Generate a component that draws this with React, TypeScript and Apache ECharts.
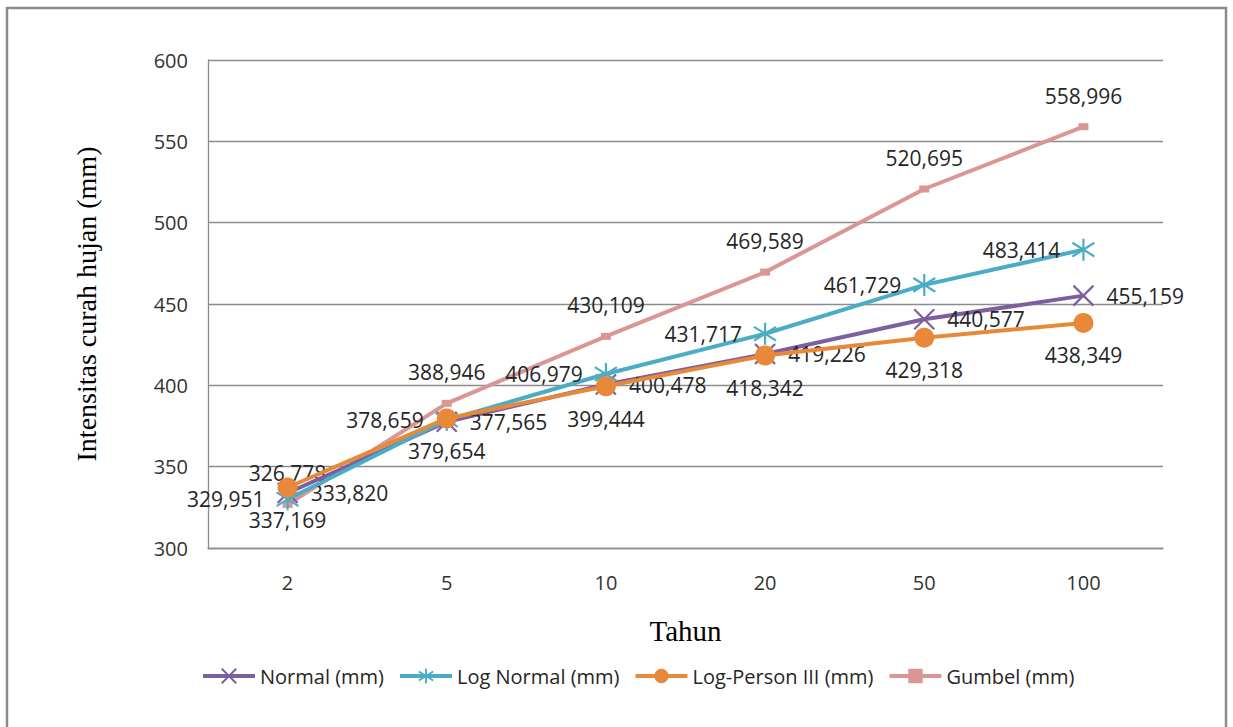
import React, { useEffect, useRef } from "react";
import * as echarts from "echarts";

const categories = ["2", "5", "10", "20", "50", "100"];
const normal = [333.82, 377.565, 400.478, 419.226, 440.577, 455.159];
const logNormal = [329.951, 378.659, 406.979, 431.717, 461.729, 483.414];
const logPerson = [337.169, 379.654, 399.444, 418.342, 429.318, 438.349];
const gumbel = [326.778, 388.946, 430.109, 469.589, 520.695, 558.996];

const seriesNames = ["Normal (mm)", "Log Normal (mm)", "Log-Person III (mm)", "Gumbel (mm)"];
const colors = ["#7D5FA0", "#4BACC6", "#E8893A", "#D99694"];

const fmt = (v: number) => v.toFixed(3).replace(".", ",");
const NUM_FONT = "'Open Sans', 'DejaVu Sans', sans-serif";

export default function App() {
  const ref = useRef<HTMLDivElement>(null);
  useEffect(() => {
    document.body.style.margin = "0";
    if (!ref.current) return;
    const chart = echarts.init(ref.current, undefined, { renderer: "svg" });
    const labelBase = {
      show: true,
      fontFamily: NUM_FONT,
      fontSize: 21,
      color: "#262626",
      formatter: (p: any) => fmt(p.value),
    };
    const crossPath = "path://M0,0L16,16M16,0L0,16";
    const starPath = "path://M1,3L15,13M15,3L1,13M8,0L8,16";
    chart.setOption({
      animation: false,
      backgroundColor: "#ffffff",
      color: colors,
      grid: { left: 208, right: 70, top: 60, bottom: 179 },
      graphic: [
        {
          type: "rect",
          shape: { x: 7, y: 8, width: 1219, height: 740 },
          style: { fill: "none", stroke: "#8c8c8c", lineWidth: 2.5 },
          silent: true,
        },
      ],
      legend: {
        bottom: 36,
        left: 196,
        itemWidth: 52,
        itemHeight: 18,
        itemGap: 14,
        lineStyle: { width: 4 },
        textStyle: {
          fontFamily: "'Open Sans', sans-serif",
          fontSize: 20,
          color: "#262626",
        },
        data: seriesNames,
      },
      xAxis: {
        type: "category",
        data: categories,
        boundaryGap: true,
        name: "Tahun",
        nameLocation: "middle",
        nameGap: 68,
        nameTextStyle: { fontFamily: "'Liberation Serif', serif", fontSize: 29, color: "#000" },
        axisLine: { lineStyle: { color: "#8c8c8c", width: 1.3 } },
        axisTick: { show: false },
        axisLabel: { fontFamily: NUM_FONT, fontSize: 20, color: "#333", margin: 24 },
      },
      yAxis: {
        type: "value",
        min: 300,
        max: 600,
        interval: 50,
        name: "Intensitas curah hujan (mm)",
        nameLocation: "middle",
        nameGap: 108,
        nameTextStyle: { fontFamily: "'Liberation Serif', serif", fontSize: 28, color: "#000" },
        axisLine: { show: true, lineStyle: { color: "#8c8c8c", width: 1.3 } },
        axisTick: { show: false },
        splitLine: { lineStyle: { color: "#8c8c8c", width: 1.3 } },
        axisLabel: { fontFamily: NUM_FONT, fontSize: 20, color: "#333", margin: 20 },
      },
      series: [
        {
          name: seriesNames[0],
          type: "line",
          data: normal,
          symbol: crossPath,
          symbolSize: 20,
          lineStyle: { width: 4, color: colors[0] },
          itemStyle: { color: colors[0], borderColor: colors[0], borderWidth: 2.2 },
          label: { ...labelBase, position: "right", distance: 12 },
          z: 3,
        },
        {
          name: seriesNames[1],
          type: "line",
          data: logNormal,
          symbol: starPath,
          symbolSize: 22,
          lineStyle: { width: 4, color: colors[1] },
          itemStyle: { color: colors[1], borderColor: colors[1], borderWidth: 2.2 },
          label: { ...labelBase, position: "left", distance: 11 },
          z: 4,
        },
        {
          name: seriesNames[2],
          type: "line",
          data: logPerson,
          symbol: "circle",
          symbolSize: 20,
          lineStyle: { width: 4, color: colors[2] },
          itemStyle: { color: colors[2] },
          label: { ...labelBase, position: "bottom", distance: 12 },
          z: 5,
        },
        {
          name: seriesNames[3],
          type: "line",
          data: gumbel,
          symbol: "rect",
          symbolSize: [10, 7],
          lineStyle: { width: 4, color: colors[3] },
          itemStyle: { color: colors[3] },
          label: { ...labelBase, position: "top", distance: 17 },
          z: 2,
        },
      ],
    });
    return () => chart.dispose();
  }, []);
  return <div ref={ref} style={{ width: 1233, height: 727 }} />;
}
